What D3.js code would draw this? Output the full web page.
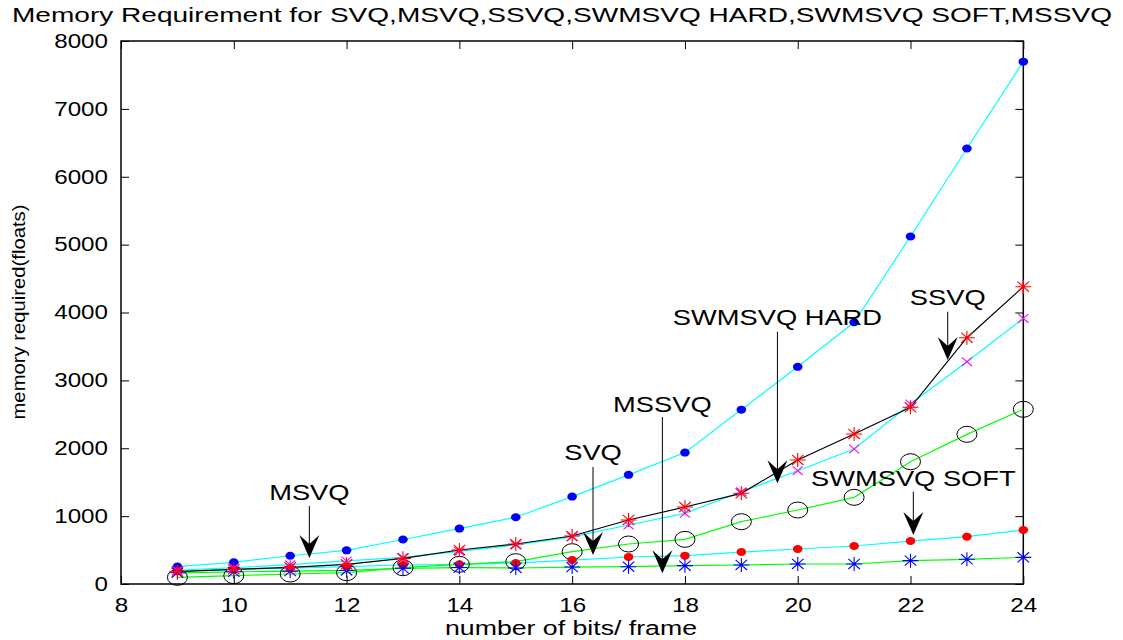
<!DOCTYPE html>
<html>
<head>
<meta charset="utf-8">
<script src="https://cdn.jsdelivr.net/npm/d3@7"></script>
<style>
  html, body { margin: 0; padding: 0; background: #fff; }
  svg { display: block; }
  text { font-family: "Liberation Sans", Arial, Helvetica, sans-serif; fill: #000; }
</style>
</head>
<body>
<svg id="chart" width="1123" height="640"></svg>
<script>
// ---------------- data ----------------
const bits = [9, 10, 11, 12, 13, 14, 15, 16, 17, 18, 19, 20, 21, 22, 23, 24];
const msvqMem       = [256, 320, 416, 496, 656, 816, 984, 1288, 1608, 1936, 2568, 3200, 3856, 5120, 6416, 7696];
const ssvqMem       = [181, 216, 246, 290, 378, 501, 589, 707, 943, 1134, 1336, 1827, 2210, 2603, 3629, 4380];
const swmsvqHardMem = [200, 240, 285, 340, 392, 480, 575, 695, 869, 1041, 1360, 1669, 1989, 2652, 3275, 3913];
const swmsvqSoftMem = [190, 215, 235, 255, 280, 290, 309, 353, 398, 417, 471, 516, 560, 633, 697, 795];
const svqMem        = [98, 123, 147, 167, 240, 290, 329, 476, 589, 658, 918, 1090, 1277, 1802, 2205, 2574];
const mssvqMem      = [165, 180, 190, 200, 231, 242, 236, 250, 255, 270, 280, 295, 295, 344, 364, 393];

const xTicks = [8, 10, 12, 14, 16, 18, 20, 22, 24];
const yTicks = [0, 1000, 2000, 3000, 4000, 5000, 6000, 7000, 8000];

const titleText = "Memory Requirement for SVQ,MSVQ,SSVQ,SWMSVQ HARD,SWMSVQ SOFT,MSSVQ";
const xLabel = "number of bits/ frame";
const yLabel = "memory required(floats)";

// annotations: label, x (bits), text baseline value, arrow tail value, arrow tip value
const annLabels = ["MSVQ", "SVQ", "MSSVQ", "SWMSVQ HARD", "SSVQ", "SWMSVQ SOFT"];
const annX      = [11.34, 16.37, 17.6, 19.64, 22.66, 22.05];
const annTextY  = [1238, 1827, 2538, 3816, 4110, 1444];
const annTail   = [1149, 1724, 2460, 3717, 4012, 1360];
const annTip    = [383, 427, 158, 1484, 3300, 722];

(function () {
// ---------------- layout ----------------
const svg = d3.select("#chart");
const pLeft = 121, pRight = 1023.3, pTop = 41, pBottom = 584;
const stretch = 1.24;

const x = d3.scaleLinear().domain([8, 24]).range([pLeft, pRight]);
const y = d3.scaleLinear().domain([0, 8000]).range([pBottom, pTop]);

function widen(sel, k) {
  sel.each(function () {
    const w = this.getComputedTextLength();
    this.setAttribute("textLength", w * k);
    this.setAttribute("lengthAdjust", "spacingAndGlyphs");
  });
}

// axes box + inward ticks
const axisG = svg.append("g");
axisG.append("g").attr("transform", `translate(0,${pBottom})`)
  .call(d3.axisBottom(x).tickValues(xTicks).tickSize(-8).tickPadding(14).tickFormat(d3.format("d")))
  .call(g => g.select(".domain").remove());
axisG.append("g").attr("transform", `translate(0,${pTop})`)
  .call(d3.axisTop(x).tickValues(xTicks).tickSize(-8).tickFormat(""))
  .call(g => g.select(".domain").remove());
axisG.append("g").attr("transform", `translate(${pLeft},0)`)
  .call(d3.axisLeft(y).tickValues(yTicks).tickSize(-8).tickPadding(13).tickFormat(d3.format("d")))
  .call(g => g.select(".domain").remove());
axisG.append("g").attr("transform", `translate(${pRight},0)`)
  .call(d3.axisRight(y).tickValues(yTicks).tickSize(-8).tickFormat(""))
  .call(g => g.select(".domain").remove());
axisG.selectAll(".tick line").attr("stroke", "#000").attr("stroke-width", 1);
axisG.selectAll(".tick text")
  .style("font-size", "19.5px")
  .style("font-family", "'Liberation Sans', Arial, sans-serif")
  .attr("fill", "#000");
axisG.selectAll("g.tick text").call(widen, stretch);

svg.append("rect").attr("x", pLeft).attr("y", pTop)
  .attr("width", pRight - pLeft).attr("height", pBottom - pTop)
  .attr("fill", "none").attr("stroke", "#000").attr("stroke-width", 1.5);

// ---------------- series ----------------
const lineGen = vals => d3.line().x((d, i) => x(bits[i])).y(d => y(d))(vals);

const plot = svg.append("g");

function drawLine(vals, color) {
  plot.append("path").attr("d", lineGen(vals)).attr("fill", "none")
    .attr("stroke", color).attr("stroke-width", 1.2);
}
function dots(vals, color) {
  plot.append("g").selectAll("ellipse").data(vals).join("ellipse")
    .attr("cx", (d, i) => x(bits[i])).attr("cy", d => y(d))
    .attr("rx", 4.8).attr("ry", 4).attr("fill", color);
}
function circles(vals) {
  plot.append("g").selectAll("ellipse").data(vals).join("ellipse")
    .attr("cx", (d, i) => x(bits[i])).attr("cy", d => y(d))
    .attr("rx", 10).attr("ry", 8).attr("fill", "none").attr("stroke", "#000").attr("stroke-width", 1);
}
function starPath(cx, cy, hx, hy, withPlus, withX) {
  let p = "";
  if (withPlus) p += `M${cx - hx},${cy}L${cx + hx},${cy}M${cx},${cy - hy}L${cx},${cy + hy}`;
  if (withX) {
    const dx = hx * 0.72, dy = hy * 0.72;
    p += `M${cx - dx},${cy - dy}L${cx + dx},${cy + dy}M${cx - dx},${cy + dy}L${cx + dx},${cy - dy}`;
  }
  return p;
}
function stars(vals, color, hx, hy, withPlus, withX) {
  plot.append("g").selectAll("path").data(vals).join("path")
    .attr("d", (d, i) => starPath(x(bits[i]), y(d), hx, hy, withPlus, withX))
    .attr("fill", "none").attr("stroke", color).attr("stroke-width", 1.1);
}

// lines
drawLine(msvqMem, "#00ffff");
drawLine(swmsvqHardMem, "#00ffff");
drawLine(swmsvqSoftMem, "#00ffff");
drawLine(ssvqMem, "#000000");
drawLine(svqMem, "#00ff00");
drawLine(mssvqMem, "#00ff00");

// markers
circles(svqMem);
dots(msvqMem, "#0000ff");
dots(swmsvqSoftMem, "#ff0000");
stars(mssvqMem, "#0000ff", 8, 7, true, true);
stars(swmsvqHardMem, "#ff00ff", 7, 6, false, true);
stars(ssvqMem, "#ff0000", 8, 7, true, true);

// ---------------- annotations ----------------
const ann = svg.append("g");
annLabels.forEach((lab, i) => {
  const ax = x(annX[i]);
  const tipY = y(annTip[i]);
  ann.append("line").attr("x1", ax).attr("x2", ax)
    .attr("y1", y(annTail[i])).attr("y2", tipY - 10)
    .attr("stroke", "#000").attr("stroke-width", 1);
  ann.append("path")
    .attr("d", `M${ax},${tipY}L${ax - 10},${tipY - 23}L${ax},${tipY - 14}L${ax + 10},${tipY - 23}Z`)
    .attr("fill", "#000");
  ann.append("text").attr("x", ax).attr("y", y(annTextY[i]))
    .attr("text-anchor", "middle").style("font-size", "22px").text(lab)
    .call(widen, stretch);
});

// ---------------- titles ----------------
svg.append("text").attr("x", 562).attr("y", 22).attr("text-anchor", "middle")
  .style("font-size", "19.5px").attr("textLength", 1100).attr("lengthAdjust", "spacingAndGlyphs")
  .text(titleText);

svg.append("text").attr("x", 571).attr("y", 635).attr("text-anchor", "middle")
  .style("font-size", "19.5px").attr("textLength", 252).attr("lengthAdjust", "spacingAndGlyphs")
  .text(xLabel);

svg.append("text").attr("transform", "translate(25,312) rotate(-90)")
  .attr("text-anchor", "middle").style("font-size", "18px")
  .attr("textLength", 215).attr("lengthAdjust", "spacingAndGlyphs")
  .text(yLabel);
})();
</script>
</body>
</html>
